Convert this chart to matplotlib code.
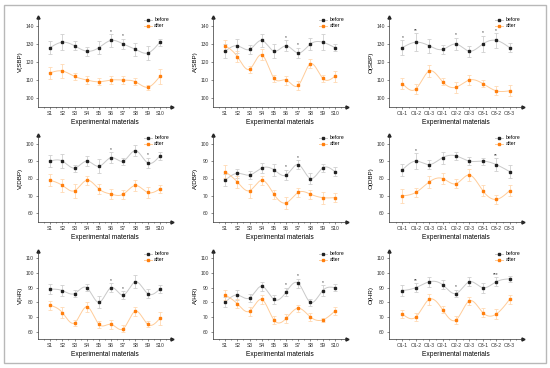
import numpy as np
import matplotlib
matplotlib.use("Agg")
import matplotlib.pyplot as plt
from matplotlib.lines import Line2D
from matplotlib.patches import Rectangle

plt.rcParams['font.family'] = ['Liberation Sans', 'DejaVu Sans']

s_labels = ["S1", "S2", "S3", "S4", "S5", "S6", "S7", "S8", "S9", "S10"]
o_labels = ["O1-1", "O1-2", "O1-3", "O2-1", "O2-2", "O2-3", "O3-1", "O3-2", "O3-3"]

# ---- SBP ----
v_sbp_before = [128, 131, 129, 126, 128, 132, 130, 127, 125, 131]
v_sbp_before_err = [3.5, 4.5, 2.5, 2.5, 3.5, 3.5, 3, 3.5, 4, 2]
v_sbp_after = [114, 115, 112, 110, 109, 110, 110, 109, 106, 112]
v_sbp_after_err = [3.5, 4, 2, 2, 2, 2, 2, 2, 1.5, 4]
v_sbp_stars = ["", "", "", "", "", "*", "*", "", "", ""]

a_sbp_before = [126, 129, 127, 132, 126, 129, 125, 130, 131, 128]
a_sbp_before_err = [4, 4, 2.5, 3.5, 4, 3, 3, 3.5, 4.5, 2]
a_sbp_after = [129, 123, 116, 124, 111, 110, 107, 119, 111, 112]
a_sbp_after_err = [3, 3, 2, 3, 2, 2.5, 2.5, 2.5, 2, 3]
a_sbp_stars = ["", "", "", "", "", "*", "*", "", "", ""]

o_sbp_before = [128, 131, 129, 127, 130, 126, 130, 132, 128]
o_sbp_before_err = [4, 5, 4, 2.5, 3.5, 3, 4.5, 4, 2.5]
o_sbp_after = [108, 105, 115, 109, 106, 110, 108, 104, 104]
o_sbp_after_err = [3, 3, 3.5, 2, 3, 3, 2, 2.5, 3]
o_sbp_stars = ["*", "**", "", "", "*", "", "*", "*", ""]

# ---- DBP ----
v_dbp_before = [90, 90, 86, 90, 87, 92, 90, 96, 89, 93]
v_dbp_before_err = [3.5, 4, 2, 3, 4, 3, 2, 3, 3, 2.5]
v_dbp_after = [79, 76, 73, 79, 74, 71, 71, 76, 72, 74]
v_dbp_after_err = [3.5, 3.5, 4, 2.5, 3, 3, 2.5, 3, 3, 2.5]
v_dbp_stars = ["", "", "", "", "", "*", "", "", "*", ""]

a_dbp_before = [79, 83, 82, 86, 85, 82, 88, 80, 86, 84]
a_dbp_before_err = [3.5, 2.5, 2.5, 3, 3.5, 3, 2.5, 3, 2.5, 2.5]
a_dbp_after = [84, 78, 73, 79, 71, 66, 72, 71, 69, 69]
a_dbp_after_err = [3.5, 3.5, 4, 2.5, 2.5, 3.5, 2.5, 2.5, 3.5, 2.5]
a_dbp_stars = ["", "", "", "", "", "*", "*", "", "", ""]

o_dbp_before = [85, 90, 88, 92, 93, 90, 90, 88, 84]
o_dbp_before_err = [3.5, 4.5, 2.5, 3.5, 2.5, 2.5, 2, 3.5, 3.5]
o_dbp_after = [70, 72, 78, 80, 77, 82, 73, 68, 73]
o_dbp_after_err = [4, 2.5, 3.5, 3, 2.5, 3.5, 3, 2.5, 3]
o_dbp_stars = ["", "*", "", "", "", "", "", "**", ""]

# ---- HR ----
v_hr_before = [89, 88, 86, 90, 80, 90, 85, 94, 86, 89]
v_hr_before_err = [3.5, 3.5, 2.5, 2.5, 4, 3, 2.5, 4.5, 3, 2.5]
v_hr_after = [78, 73, 66, 77, 65, 65, 62, 74, 65, 69]
v_hr_after_err = [3, 4, 2, 3.5, 2.5, 3, 2.5, 3, 2, 4.5]
v_hr_stars = ["", "", "", "", "", "*", "*", "", "", ""]

a_hr_before = [80, 85, 83, 91, 82, 87, 93, 80, 88, 90]
a_hr_before_err = [3.5, 3.5, 2.5, 3, 3, 3, 3, 2.5, 3.5, 2.5]
a_hr_after = [85, 79, 74, 82, 68, 69, 76, 70, 68, 74]
a_hr_after_err = [3.5, 3, 3, 3, 2.5, 3, 2.5, 3, 1.5, 2.5]
a_hr_stars = ["", "", "", "", "", "*", "*", "", "*", ""]

o_hr_before = [88, 90, 94, 92, 86, 94, 90, 94, 96]
o_hr_before_err = [4, 3, 3.5, 3, 2.5, 3, 3.5, 3, 2]
o_hr_after = [72, 70, 82, 75, 68, 81, 73, 72, 82]
o_hr_after_err = [3, 3, 4, 2.5, 3, 2.5, 3, 3.5, 3]
o_hr_stars = ["", "**", "", "", "*", "", "", "***", ""]

panels = [
    ("V(SBP)", s_labels, v_sbp_before, v_sbp_before_err, v_sbp_after, v_sbp_after_err, v_sbp_stars, (95, 145), [100, 110, 120, 130, 140]),
    ("A(SBP)", s_labels, a_sbp_before, a_sbp_before_err, a_sbp_after, a_sbp_after_err, a_sbp_stars, (95, 145), [100, 110, 120, 130, 140]),
    ("O(SBP)", o_labels, o_sbp_before, o_sbp_before_err, o_sbp_after, o_sbp_after_err, o_sbp_stars, (95, 145), [100, 110, 120, 130, 140]),
    ("V(DBP)", s_labels, v_dbp_before, v_dbp_before_err, v_dbp_after, v_dbp_after_err, v_dbp_stars, (55, 105), [60, 70, 80, 90, 100]),
    ("A(DBP)", s_labels, a_dbp_before, a_dbp_before_err, a_dbp_after, a_dbp_after_err, a_dbp_stars, (55, 105), [60, 70, 80, 90, 100]),
    ("O(DBP)", o_labels, o_dbp_before, o_dbp_before_err, o_dbp_after, o_dbp_after_err, o_dbp_stars, (55, 105), [60, 70, 80, 90, 100]),
    ("V(HR)", s_labels, v_hr_before, v_hr_before_err, v_hr_after, v_hr_after_err, v_hr_stars, (55, 115), [60, 70, 80, 90, 100, 110]),
    ("A(HR)", s_labels, a_hr_before, a_hr_before_err, a_hr_after, a_hr_after_err, a_hr_stars, (55, 115), [60, 70, 80, 90, 100, 110]),
    ("O(HR)", o_labels, o_hr_before, o_hr_before_err, o_hr_after, o_hr_after_err, o_hr_stars, (55, 115), [60, 70, 80, 90, 100, 110]),
]


def natural_spline(x, y, n=300):
    x = np.asarray(x, float)
    y = np.asarray(y, float)
    m = len(x)
    h = np.diff(x)
    A = np.zeros((m, m))
    b = np.zeros(m)
    A[0, 0] = 1
    A[-1, -1] = 1
    for i in range(1, m - 1):
        A[i, i - 1] = h[i - 1]
        A[i, i] = 2 * (h[i - 1] + h[i])
        A[i, i + 1] = h[i]
        b[i] = 6 * ((y[i + 1] - y[i]) / h[i] - (y[i] - y[i - 1]) / h[i - 1])
    M = np.linalg.solve(A, b)
    xs = np.linspace(x[0], x[-1], n)
    ys = np.empty_like(xs)
    for k, xv in enumerate(xs):
        i = min(np.searchsorted(x, xv, side='right') - 1, m - 2)
        i = max(i, 0)
        t1 = x[i + 1] - xv
        t0 = xv - x[i]
        hi = h[i]
        ys[k] = (M[i] * t1 ** 3 / (6 * hi) + M[i + 1] * t0 ** 3 / (6 * hi)
                 + (y[i] / hi - M[i] * hi / 6) * t1 + (y[i + 1] / hi - M[i + 1] * hi / 6) * t0)
    return xs, ys


W, H = 550, 368
fig = plt.figure(figsize=(5.5, 3.68), dpi=100)
fig.patch.set_facecolor('white')
fig.add_artist(Rectangle((4 / W, 5 / H), 542 / W, 358 / H, transform=fig.transFigure,
                         fill=False, edgecolor='#b8b8b8', linewidth=1.0))

col_left = [38, 213, 389]
col_w = 134
row_top = [17, 135, 251]
row_bot = [107, 222, 339]

black_line = '#c9c9c9'
orange = '#ff7f0e'
orange_line = '#ffcc99'
err_grey = '#cfcfcf'
err_orange = '#ffd9b3'

for idx, (ylab, cats, bef, bef_e, aft, aft_e, stars, ylim, yticks) in enumerate(panels):
    r, c = divmod(idx, 3)
    left = col_left[c] / W
    bottom = 1 - row_bot[r] / H
    height = (row_bot[r] - row_top[r]) / H
    ax = fig.add_axes([left, bottom, col_w / W, height])
    n = len(cats)
    x = np.arange(1, n + 1)
    xs, ys = natural_spline(x, bef)
    ax.plot(xs, ys, color=black_line, lw=0.7, zorder=1)
    xs, ys = natural_spline(x, aft)
    ax.plot(xs, ys, color=orange_line, lw=0.7, zorder=1)
    ax.errorbar(x, bef, yerr=bef_e, fmt='none', ecolor=err_grey, elinewidth=0.6, capsize=1.2, capthick=0.6, zorder=2)
    ax.errorbar(x, aft, yerr=aft_e, fmt='none', ecolor=err_orange, elinewidth=0.6, capsize=1.2, capthick=0.6, zorder=2)
    ax.plot(x, bef, linestyle='none', marker='s', ms=1.8, color='#222222', zorder=3)
    ax.plot(x, aft, linestyle='none', marker='s', ms=1.8, color=orange, zorder=3)
    for xi, yi, ei, st in zip(x, bef, bef_e, stars):
        if st:
            ax.text(xi, yi + ei + 0.3, st, ha='center', va='bottom', fontsize=3.5, color='#333333')
    ax.set_xlim(0, n + 1)
    ax.set_ylim(*ylim)
    ax.set_xticks(x)
    ax.set_xticklabels(cats, fontsize=3.6)
    ax.set_xticks(np.arange(0.5, n + 1, 1.0), minor=True)
    ax.set_yticks(yticks)
    ax.set_yticklabels([str(t) for t in yticks], fontsize=3.6)
    ax.tick_params(axis='both', which='major', length=1.5, width=0.4, pad=1.5, colors='#333333')
    ax.tick_params(axis='x', which='minor', length=1.0, width=0.4, colors='#333333')
    for s in ['top', 'right']:
        ax.spines[s].set_visible(False)
    for s in ['left', 'bottom']:
        ax.spines[s].set_linewidth(0.5)
        ax.spines[s].set_color('#333333')
    ax.plot(0, 1, '^', transform=ax.transAxes, ms=2.2, color='#222222', clip_on=False)
    ax.plot(1, 0, '>', transform=ax.transAxes, ms=2.2, color='#222222', clip_on=False)
    ax.set_ylabel(ylab, fontsize=4.5, labelpad=2)
    ax.set_xlabel("Experimental materials", fontsize=4.8, labelpad=2)
    handles = [Line2D([0], [0], color=black_line, lw=0.7, marker='s', ms=1.8, mfc='#222222', mec='#222222'),
               Line2D([0], [0], color=orange_line, lw=0.7, marker='s', ms=1.8, mfc=orange, mec=orange)]
    ax.legend(handles, ['before', 'after'], loc='upper right', fontsize=3.6, frameon=False,
              handlelength=1.6, handletextpad=0.4, labelspacing=0.2, borderaxespad=0.2,
              bbox_to_anchor=(1.0, 1.03))

fig.savefig("out.png", dpi=100)
